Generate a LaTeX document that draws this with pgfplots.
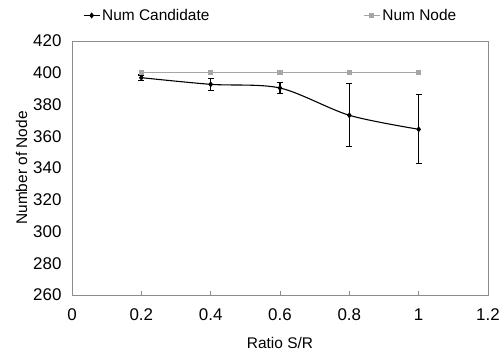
\documentclass[border=0pt]{standalone}
\usepackage{pgfplots}
\pgfplotsset{compat=1.18}
\usepackage{fontspec}
\setmainfont{Liberation Sans}
\definecolor{axisgray}{HTML}{8C8C8C}
\definecolor{nodegray}{HTML}{A6A6A6}
\begin{document}
\begin{tikzpicture}
\path[use as bounding box] (-72bp,-61bp) rectangle (430bp,295bp);
\begin{axis}[
  scale only axis,
  width=416bp, height=254bp,
  xmin=0, xmax=1.2, ymin=260, ymax=420,
  xtick={0,0.2,...,1.2}, ytick={260,280,...,420},
  /pgf/number format/assume math mode=true,
  tick label style={font=\fontsize{17}{19}\selectfont},
  label style={font=\fontsize{15.5}{18}\selectfont},
  xlabel={Ratio S/R}, ylabel={Number of Node},
  xlabel style={yshift=-10bp},
  ylabel style={yshift=-1bp},
  axis line style={axisgray, line width=1pt},
  every tick/.style={axisgray},
  xtick pos=bottom, ytick style={draw=none},
  tick align=inside, major tick length=4bp,
  xticklabel style={yshift=-10bp},
  yticklabel style={xshift=-7bp},
  legend columns=2,
  legend style={draw=none, fill=none, at={(0,1)}, anchor=south west, xshift=8bp, yshift=15bp,
    font=\fontsize{15.5}{18}\selectfont,
    /tikz/every even column/.append style={column sep=152bp}},
  legend image code/.code={\draw[mark repeat=2,mark phase=2] plot coordinates {(0cm,0cm)(0.28cm,0cm)(0.56cm,0cm)};},
]
\addplot[black, line width=1.1pt, smooth, mark=diamond*, mark size=2.2bp,
  error bars/.cd, y dir=both, y explicit, error bar style={black, line width=1.1pt}, error mark options={black, line width=1.1pt, rotate=90, mark size=3bp}]
  coordinates {
  (0.2,396.9) +- (0,1.7)
  (0.4,392.7) +- (0,3.6)
  (0.6,390.4) +- (0,3.6)
  (0.8,373.2) +- (0,19.9)
  (1.0,364.4) +- (0,21.7)
};
\addlegendentry{Num Candidate}
\addplot[nodegray, line width=1.1pt, mark=square*, mark size=2bp, mark options={nodegray}]
  coordinates {(0.2,400) (0.4,400) (0.6,400) (0.8,400) (1.0,400)};
\addlegendentry{Num Node}
\end{axis}
\end{tikzpicture}
\end{document}
